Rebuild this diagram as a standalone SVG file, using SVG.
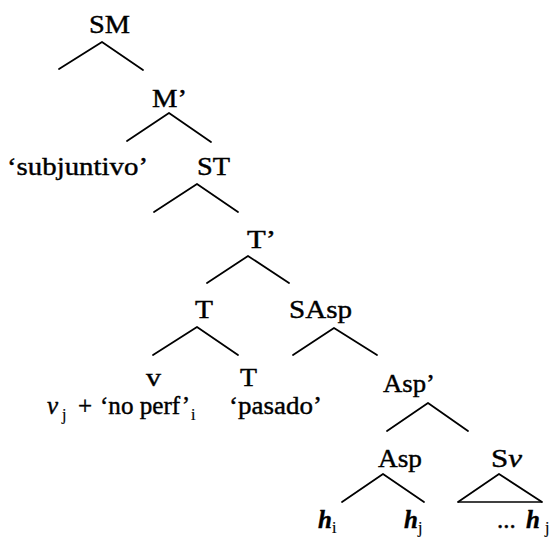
<svg xmlns="http://www.w3.org/2000/svg" width="553" height="545" viewBox="0 0 553 545">
  <style>
    .lbl { font-family: "Liberation Serif", "Times New Roman", serif; font-size: 25px; fill: #000; stroke: #000; stroke-width: 0.4; }
    .it { font-style: italic; }
    .bi { font-style: italic; font-weight: bold; }
    .sub { font-family: "Liberation Serif", "Times New Roman", serif; font-size: 16px; fill: #000; stroke: #000; stroke-width: 0.2; }
    .edge { stroke: #000; stroke-width: 1.8; fill: none; stroke-linecap: round; stroke-linejoin: round; }
    .base { stroke: #000; stroke-width: 1.3; fill: none; }
  </style>
  <rect width="553" height="545" fill="#fff"/>

  <!-- branches of the tree -->
  <g id="connectors">
    <polyline class="edge" points="59,69 102,42 143,70"/>
    <polyline class="edge" points="127,141 169,113 211,142"/>
    <polyline class="edge" points="154,212 197,184 238,212"/>
    <polyline class="edge" points="207,283 248,256 289,283"/>
    <polyline class="edge" points="153,355 197,327 238,355"/>
    <polyline class="edge" points="293,355 334,328 377,355"/>
    <polyline class="edge" points="387,431 428,403 468,431"/>
    <polyline class="edge" points="342,502 383,474 424,502"/>
    <polyline class="edge" points="458,502 499,474 542,502"/>
    <line class="base" x1="458" y1="502" x2="542" y2="502"/>
  </g>

  <g id="SM"><text class="lbl" x="89" y="33" textLength="41" lengthAdjust="spacingAndGlyphs">SM</text></g>
  <g id="M-bar"><text class="lbl" x="152" y="107" textLength="35" lengthAdjust="spacingAndGlyphs">M’</text></g>
  <g id="subjuntivo"><text class="lbl" x="7" y="175" textLength="141" lengthAdjust="spacingAndGlyphs">‘subjuntivo’</text></g>
  <g id="ST"><text class="lbl" x="197" y="175" textLength="33" lengthAdjust="spacingAndGlyphs">ST</text></g>
  <g id="T-bar"><text class="lbl" x="247" y="248" textLength="29" lengthAdjust="spacingAndGlyphs">T’</text></g>
  <g id="T-head"><text class="lbl" x="195" y="318" textLength="18" lengthAdjust="spacingAndGlyphs">T</text></g>
  <g id="SAsp"><text class="lbl" x="289" y="318" textLength="63" lengthAdjust="spacingAndGlyphs">SAsp</text></g>

  <g id="v-node">
    <text class="lbl" x="146" y="386" textLength="15" lengthAdjust="spacingAndGlyphs">v</text>
    <text class="lbl it" x="47" y="414">v</text>
    <text class="sub" x="62" y="420">j</text>
    <text class="lbl" x="78" y="414">+</text>
    <text class="lbl" x="100" y="414" textLength="90" lengthAdjust="spacingAndGlyphs">‘no perf’</text>
    <text class="sub" x="191" y="420">i</text>
  </g>

  <g id="T-low">
    <text class="lbl" x="240" y="386" textLength="17" lengthAdjust="spacingAndGlyphs">T</text>
    <text class="lbl" x="229" y="414" textLength="93" lengthAdjust="spacingAndGlyphs">‘pasado’</text>
  </g>

  <g id="Asp-bar"><text class="lbl" x="383" y="392" textLength="52" lengthAdjust="spacingAndGlyphs">Asp’</text></g>
  <g id="Asp"><text class="lbl" x="378" y="467" textLength="44" lengthAdjust="spacingAndGlyphs">Asp</text></g>
  <g id="Sv"><text class="lbl" x="491" y="467" textLength="31" lengthAdjust="spacingAndGlyphs">S<tspan class="it">v</tspan></text></g>

  <g id="h-i">
    <text class="lbl bi" x="318" y="528">h</text>
    <text class="sub" x="332" y="533">i</text>
  </g>
  <g id="h-j">
    <text class="lbl bi" x="404" y="528">h</text>
    <text class="sub" x="418" y="533">j</text>
  </g>
  <g id="h-j-trace">
    <text class="lbl" x="497" y="528">...</text>
    <text class="lbl bi" x="526" y="528">h</text>
    <text class="sub" x="545" y="533">j</text>
  </g>
</svg>
